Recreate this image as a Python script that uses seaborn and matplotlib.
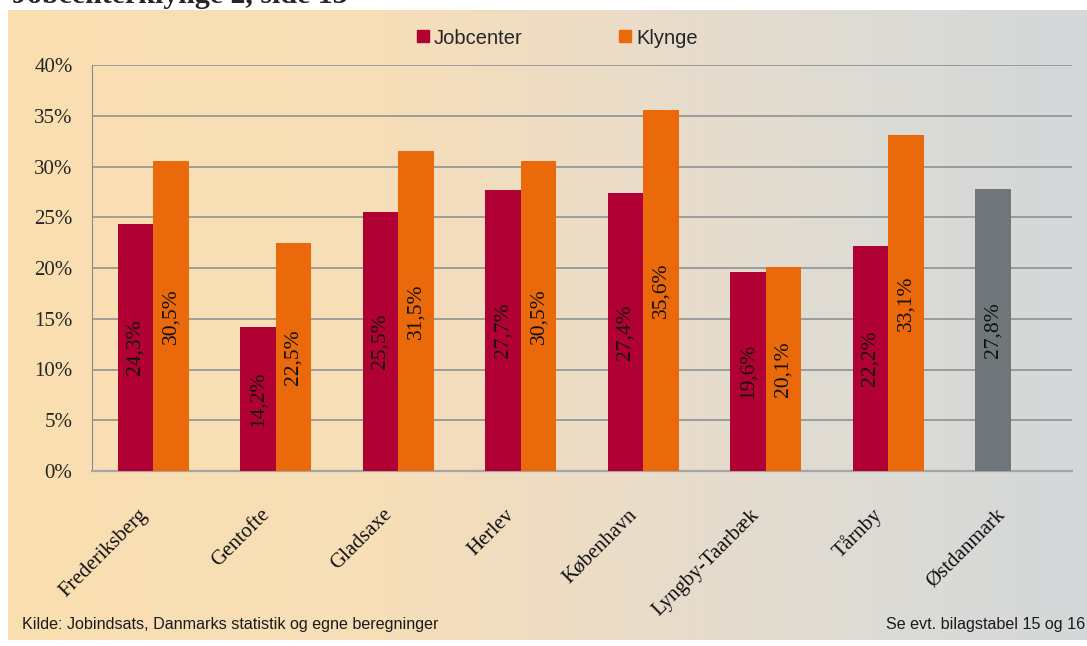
import numpy as np
import pandas as pd
import seaborn as sns
import matplotlib.pyplot as plt
from matplotlib.colors import LinearSegmentedColormap
from matplotlib.lines import Line2D

# data
steder = ["Frederiksberg", "Gentofte", "Gladsaxe", "Herlev", "København",
          "Lyngby-Taarbæk", "Tårnby", "Østdanmark"]
jobcenter = [24.3, 14.2, 25.5, 27.7, 27.4, 19.6, 22.2, 27.8]
klynge = [30.5, 22.5, 31.5, 30.5, 35.6, 20.1, 33.1]   # no Klynge bar for Østdanmark
serier = ["Jobcenter", "Klynge"]
farver = ["#B10034", "#EA690B"]
graa = "#6F777B"

rows = [(s, "Jobcenter", v) for s, v in zip(steder, jobcenter)]
rows += [(s, "Klynge", v) for s, v in zip(steder, klynge)]
df = pd.DataFrame(rows, columns=["sted", "serie", "andel"])

sns.set_style("white")
serif = ["Liberation Serif", "DejaVu Serif"]
sans = ["Liberation Sans", "DejaVu Sans"]

fig = plt.figure(figsize=(10.87, 6.46), dpi=100)
fig.patch.set_facecolor("white")

# gradient background panel
bg = fig.add_axes([8 / 1087, 6 / 646, 1 - 8 / 1087, (640 - 10) / 646], zorder=-10)
cmap = LinearSegmentedColormap.from_list(
    "bg", [(0, "#FADFB0"), (0.35, "#F6DEB8"), (0.6, "#E9DCCA"), (0.8, "#DDDBD5"), (1, "#D4D8DA")])
bg.imshow(np.linspace(0, 1, 256)[None, :], aspect="auto", cmap=cmap, extent=[0, 1, 0, 1])
bg.set_axis_off()

ax = fig.add_axes([92 / 1087, 1 - 471 / 646, 980 / 1087, 406 / 646])
ax.set_facecolor("none")

sns.barplot(data=df, x="sted", y="andel", hue="serie", hue_order=serier,
            order=steder, palette=farver, width=0.58, saturation=1,
            linewidth=0, legend=False, ax=ax, zorder=3)

# Østdanmark bar is grey
ax.containers[0].patches[-1].set_facecolor(graa)

for cont in ax.containers:
    vals = [p.get_height() for p in cont.patches]
    labels = [f"{v:.1f}%".replace(".", ",") for v in vals]
    ax.bar_label(cont, labels=labels, label_type="center", rotation=90,
                 fontsize=15.5, family=serif, color="#111111")

ax.set_xlim(-0.5, len(steder) - 0.5)
ax.set_ylim(0, 40)
ax.set_yticks(range(0, 41, 5))
ax.set_yticklabels([f"{v}%" for v in range(0, 41, 5)], family=serif, fontsize=15)
ax.grid(axis="y", color="#878C90", lw=1.1, zorder=0)
ax.set_axisbelow(True)

# category names, rotated, placed a bit left of and below each group
ax.set_xticks(range(len(steder)))
ax.set_xticklabels([])
for i, s in enumerate(steder):
    ax.annotate(s, xy=(i, 0), xycoords=("data", "axes fraction"),
                xytext=(-6.5, -29.5), textcoords="offset points",
                rotation=45, ha="right", va="center", rotation_mode="anchor",
                family=serif, fontsize=15, color="#111111")
ax.set_xticks(np.arange(-0.5, len(steder), 1), minor=True)
ax.tick_params(axis="x", which="major", length=0)
ax.tick_params(axis="x", which="minor", length=6, color="#9A9C9E", direction="out")
ax.tick_params(axis="y", length=6, color="#878C90", direction="out", pad=8)
ax.set_xlabel("")
ax.set_ylabel("")

for side in ["top", "right"]:
    ax.spines[side].set_visible(False)
ax.spines["left"].set_color("#878C90")
ax.spines["bottom"].set_color("#A3A5A7")
ax.spines["bottom"].set_linewidth(1.6)

handles = [Line2D([], [], marker="s", ls="", markersize=9, color=c) for c in farver]
fig.legend(handles, serier, loc="center", bbox_to_anchor=(0.512, 1 - 38 / 646),
           ncol=2, frameon=False, prop={"family": sans, "size": 14.5},
           columnspacing=4.7, handletextpad=0.15, handlelength=0.8)

fig.text(22 / 1087, 1 - 624 / 646, "Kilde: Jobindsats, Danmarks statistik og egne beregninger",
         ha="left", va="center", fontsize=11.6, family=sans, color="#1a1a1a")
fig.text(1085 / 1087, 1 - 624 / 646, "Se evt. bilagstabel 15 og 16",
         ha="right", va="center", fontsize=11.6, family=sans, color="#1a1a1a")

# heading that is cut off at the very top, as in the source page
fig.text(12 / 1087, 1 - 3 / 646, "Jobcenterklynge 2, side 13", ha="left", va="baseline",
         fontsize=21.5, fontweight="bold", family=serif)

fig.savefig("out.png", dpi=100)
